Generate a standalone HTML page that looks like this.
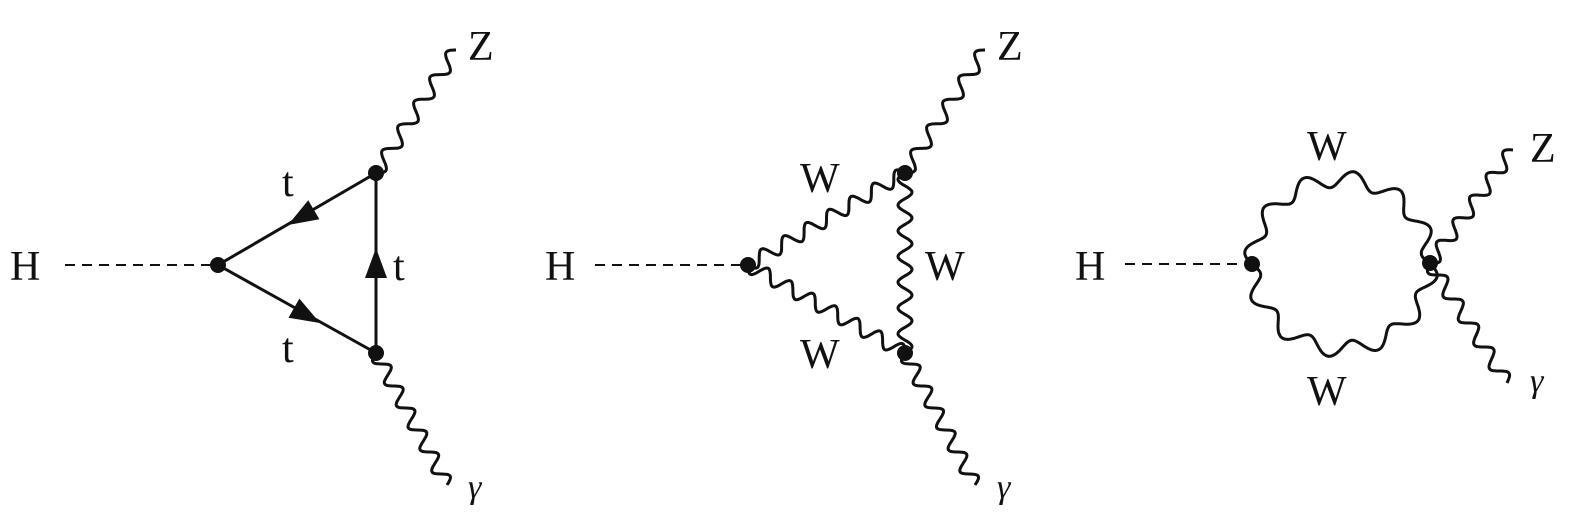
<!DOCTYPE html>
<html><head><meta charset="utf-8"><style>
html,body{margin:0;padding:0;background:#fff}
svg{display:block}
text{font-family:"Liberation Serif",serif;fill:#111}
</style></head><body>
<svg id="s" width="1575" height="522" viewBox="0 0 1575 522" xmlns="http://www.w3.org/2000/svg">
<g stroke="#111" stroke-width="3" fill="none">
<line x1="65" y1="265" x2="218" y2="265" stroke-dasharray="10,7" stroke-width="2"/>
<line x1="218" y1="265" x2="376" y2="173"/>
<line x1="218" y1="265" x2="376" y2="353"/>
<line x1="376" y1="173" x2="376" y2="353"/>
<line x1="595" y1="265" x2="748" y2="265" stroke-dasharray="10,7" stroke-width="2"/>
<line x1="1125" y1="264" x2="1252" y2="264" stroke-dasharray="10,7" stroke-width="2"/>
</g>
<g id="w" stroke="#111" stroke-width="3" fill="none"></g>
<g id="a" fill="#111"></g>
<g fill="#111">
<circle cx="218" cy="265" r="8"/><circle cx="376" cy="173" r="8"/><circle cx="376" cy="353" r="8"/>
<circle cx="748" cy="265" r="8"/><circle cx="905" cy="173" r="8"/><circle cx="905" cy="353" r="8"/>
<circle cx="1252" cy="264" r="8"/><circle cx="1430" cy="263" r="8"/>
</g>
<g font-size="42">
<text x="10" y="280">H</text><text x="545" y="280">H</text><text x="1075" y="280">H</text>
<text x="282" y="196">t</text><text x="282" y="362">t</text><text x="393" y="280">t</text>
<text x="468" y="60">Z</text><text x="997" y="60">Z</text><text x="1530" y="162">Z</text>
<text x="800" y="192">W</text><text x="800" y="368">W</text><text x="925" y="280">W</text>
<text x="1307" y="160">W</text><text x="1307" y="405">W</text>
</g>
<g font-size="34" font-style="italic">
<text x="468" y="498">γ</text><text x="997" y="498">γ</text><text x="1530" y="392">γ</text>
</g>
</svg>
<script>
var g=document.getElementById('w'),A=document.getElementById('a'),NS='http://www.w3.org/2000/svg';
function add(d,par){var p=document.createElementNS(NS,'path');p.setAttribute('d',d);(par||g).appendChild(p);}
function arrow(tx,ty,fx,fy){var dx=tx-fx,dy=ty-fy,L=Math.hypot(dx,dy);dx/=L;dy/=L;var nx=-dy,ny=dx,l=30,w=11;
var bx=tx-dx*l,by=ty-dy*l;add('M'+tx+' '+ty+'L'+(bx+nx*w)+' '+(by+ny*w)+'L'+(bx-nx*w)+' '+(by-ny*w)+'Z',A);}
arrow(288,225,376,173);arrow(320,323,218,265);arrow(376,248,376,353);
function wave(x1,y1,x2,y2,wl,a){var dx=x2-x1,dy=y2-y1,L=Math.hypot(dx,dy),nx=-dy/L,ny=dx/L;
var n=Math.max(1,Math.round(L/wl)),d='';for(var i=0;i<=200;i++){var t=i/200,s=a*Math.sin(t*n*2*Math.PI);
d+=(i?'L':'M')+(x1+dx*t+nx*s).toFixed(1)+' '+(y1+dy*t+ny*s).toFixed(1);}add(d);}
function arc(cx,cy,rx,ry,a0,a1,n,a){var d='';for(var i=0;i<=300;i++){var t=i/300,th=a0+(a1-a0)*t,s=a*Math.sin(t*n*2*Math.PI);
d+=(i?'L':'M')+(cx+(rx+s)*Math.cos(th)).toFixed(1)+' '+(cy+(ry+s)*Math.sin(th)).toFixed(1);}add(d);}
wave(376,173,456,50,27,7);wave(376,353,447,485,27,7);
wave(748,265,905,173,27,7);wave(748,265,905,353,27,7);wave(905,173,905,353,27,7);
wave(905,173,985,50,27,7);wave(905,353,975,485,27,7);
arc(1341,264,89,85,Math.PI,2*Math.PI,6,8);arc(1341,264,89,85,0,Math.PI,6,8);
wave(1430,263,1513,150,27,7);wave(1430,263,1507,383,27,7);
</script>
</body></html>
